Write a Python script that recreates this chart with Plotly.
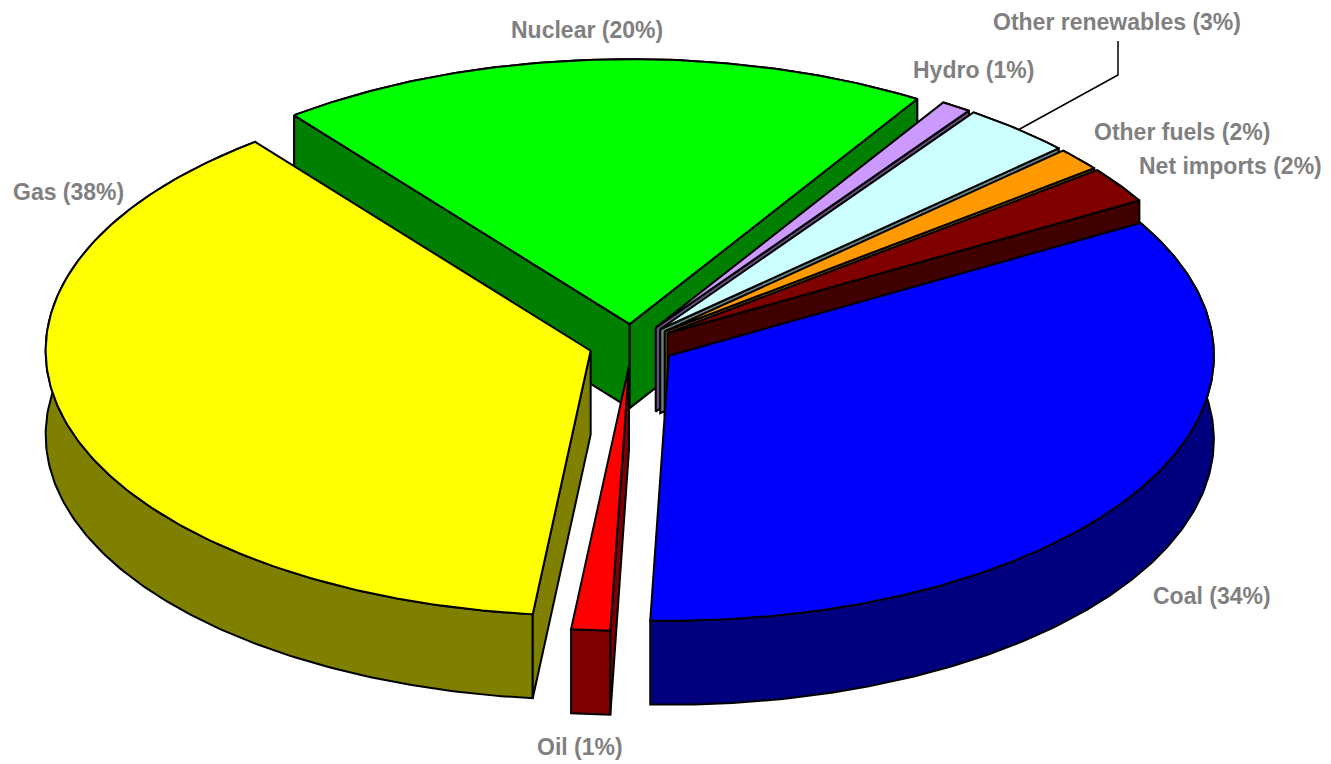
import math
import plotly.graph_objects as go

# Data
categories = ["Nuclear", "Hydro", "Other renewables", "Other fuels", "Net imports", "Coal", "Oil", "Gas"]
shares = [19.4, 0.9, 3.3, 1.4, 2.2, 33.9, 1.15, 37.75]         # slice sizes
shown_pct = [20, 1, 3, 2, 2, 34, 1, 38]                        # percentages printed in the labels
colors = ["#00FF00", "#CC99FF", "#CCFFFF", "#FF9900", "#800000", "#0000FF", "#FF0000", "#FFFF00"]

# Pie geometry / style
CX, CY = 632, 345
RX, RY = 545, 265
DEPTH = 84
EXPLODE = 43
START_DEG = 128
TEXT_COLOR = "#808080"
label_x = [587, 973, 1117, 1182, 1230, 1212, 580, 68]
label_y = [30, 70, 22, 132, 166, 596, 747, 192]
draw_order = ["Nuclear", "Hydro", "Other renewables", "Other fuels", "Net imports", "Coal", "Gas", "Oil"]
leader_x = [1018, 1118, 1118]
leader_y = [130, 75, 41]


def darker(hex_color):
    r, g, b = (int(hex_color[i:i + 2], 16) for i in (1, 3, 5))
    return f"rgb({r // 2},{g // 2},{b // 2})"


def add_poly(fig, xs, ys, fill):
    fig.add_trace(go.Scatter(
        x=xs + xs[:1], y=ys + ys[:1], mode="lines", fill="toself", fillcolor=fill,
        line=dict(color="black", width=2), hoverinfo="skip", showlegend=False,
    ))


fig = go.Figure()

total = sum(shares)
bounds = {}
a = START_DEG
for name, s in zip(categories, shares):
    b = a - s / total * 360
    bounds[name] = (a, b)
    a = b

for name in draw_order:
    i = categories.index(name)
    a0, a1 = bounds[name]
    mid = math.radians((a0 + a1) / 2)
    ax = CX + EXPLODE * math.cos(mid)
    ay = CY - EXPLODE * (RY / RX) * math.sin(mid)
    n = max(4, int(abs(a0 - a1) * 1.5))
    ts = [math.radians(a0 + (a1 - a0) * k / n) for k in range(n + 1)]
    rim_x = [ax + RX * math.cos(t) for t in ts]
    rim_y = [ay - RY * math.sin(t) for t in ts]
    wall = darker(colors[i])
    # outer face, then the cut faces that look towards the viewer, then the top
    add_poly(fig, rim_x + rim_x[::-1], rim_y + [y + DEPTH for y in rim_y[::-1]], wall)
    if math.sin(math.radians(a0 + 90)) < 0:
        add_poly(fig, [ax, rim_x[0], rim_x[0], ax], [ay, rim_y[0], rim_y[0] + DEPTH, ay + DEPTH], wall)
    if math.sin(math.radians(a1 - 90)) < 0:
        add_poly(fig, [ax, rim_x[-1], rim_x[-1], ax], [ay, rim_y[-1], rim_y[-1] + DEPTH, ay + DEPTH], wall)
    add_poly(fig, [ax] + rim_x, [ay] + rim_y, colors[i])

fig.add_trace(go.Scatter(x=leader_x, y=leader_y, mode="lines", line=dict(color="black", width=1.5),
                         hoverinfo="skip", showlegend=False))

for name, pct, lx, ly in zip(categories, shown_pct, label_x, label_y):
    fig.add_annotation(x=lx, y=ly, text=f"<b>{name} ({pct}%)</b>", showarrow=False,
                       xanchor="center", yanchor="middle",
                       font=dict(family="Liberation Sans", size=23, color=TEXT_COLOR))

fig.update_layout(
    width=1331, height=764, autosize=False,
    margin=dict(l=0, r=0, t=0, b=0),
    paper_bgcolor="white", plot_bgcolor="white",
    xaxis=dict(range=[0, 1331], visible=False, fixedrange=True),
    yaxis=dict(range=[764, 0], visible=False, fixedrange=True),
    showlegend=False,
)
fig.write_html("out.html", config=dict(displayModeBar=False),
               post_script="document.body.style.margin='0';")
